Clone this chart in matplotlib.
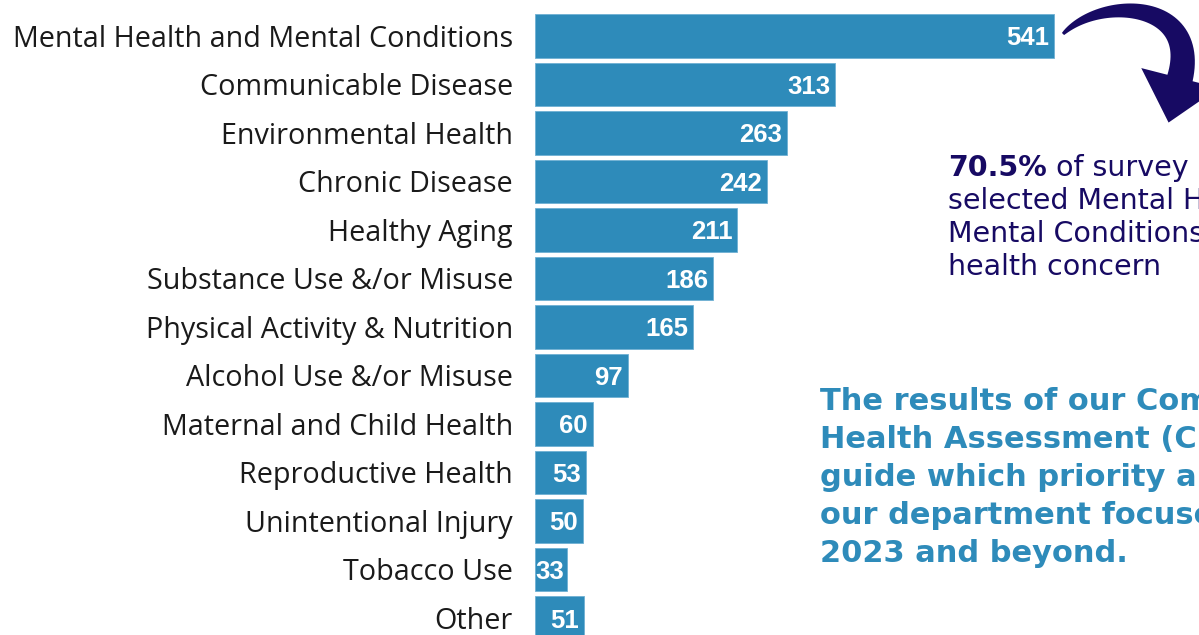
import numpy as np
import matplotlib.pyplot as plt
from matplotlib.patches import Polygon

categories = ['Mental Health and Mental Conditions', 'Communicable Disease',
              'Environmental Health', 'Chronic Disease', 'Healthy Aging',
              'Substance Use &/or Misuse', 'Physical Activity & Nutrition',
              'Alcohol Use &/or Misuse', 'Maternal and Child Health',
              'Reproductive Health', 'Unintentional Injury', 'Tobacco Use', 'Other']
counts = [541, 313, 263, 242, 211, 186, 165, 97, 60, 53, 50, 33, 51]

bar_color = '#2e8bba'
navy = '#170a63'
W, H = 1199, 635

fig = plt.figure(figsize=(11.99, 6.35), dpi=100)
# axes start where the bars start, run to the right edge
ax = fig.add_axes([535 / W, 0, 1 - 535 / W, 1])
y = list(range(len(categories)))
ax.barh(y, counts, height=0.89, color=bar_color, edgecolor='#6fb0d3', linewidth=0.6)
ax.set_xlim(0, (W - 535) / 0.959)
ax.set_ylim((H - 36) / 48.5, -36 / 48.5)
ax.set_axis_off()

for yi, name, v in zip(y, categories, counts):
    # category label left of the bars
    ax.annotate(name, xy=(0, yi), xytext=(-22, 0), textcoords='offset pixels',
                ha='right', va='center_baseline', fontsize=20.7, family='Open Sans',
                color='#1a1a1a', annotation_clip=False)
    # value inside the bar end
    pad = -3 if v < 40 else -5
    ax.annotate(str(v), xy=(v, yi), xytext=(pad, 0), textcoords='offset pixels',
                ha='right', va='center_baseline', fontsize=18.5, fontweight='bold',
                family='Liberation Sans', color='white')

# curved arrow, built as a tapered bezier in pixel space
p0, p1, p2, p3 = (np.array(p, float) for p in [(1063, 34), (1100, -4), (1200, 0), (1180, 78)])
t = np.linspace(0, 1, 60)[:, None]
c = (1 - t) ** 3 * p0 + 3 * (1 - t) ** 2 * t * p1 + 3 * (1 - t) * t ** 2 * p2 + t ** 3 * p3
d = 3 * (1 - t) ** 2 * (p1 - p0) + 6 * (1 - t) * t * (p2 - p1) + 3 * t ** 2 * (p3 - p2)
d = d / np.linalg.norm(d, axis=1, keepdims=True)
n = np.column_stack([-d[:, 1], d[:, 0]])
w = (3 + 23 * t ** 0.8) / 2
left, right = c + n * w, c - n * w
tip = p3 + d[-1] * 46
head = [p3 + n[-1] * 40, tip, p3 - n[-1] * 40]
pts = np.vstack([left, head, right[::-1]])
pts = np.column_stack([pts[:, 0] / W, 1 - pts[:, 1] / H])
fig.patches.append(Polygon(pts, closed=True, transform=fig.transFigure,
                           facecolor=navy, edgecolor='none'))

# side note in navy
t1 = fig.text(948 / W, 1 - 176 / H, '70.5%', fontsize=20.5, fontweight='bold',
              family='DejaVu Sans', color=navy, va='baseline')
ax.annotate(' of survey respondents', xy=(1, 0), xycoords=t1, va='bottom',
            fontsize=20.5, family='DejaVu Sans', color=navy, annotation_clip=False)
note_lines = ['selected Mental Health and', 'Mental Conditions as a top', 'health concern']
for i, line in enumerate(note_lines):
    fig.text(948 / W, 1 - (176 + 33 * (i + 1)) / H, line, fontsize=20.5,
             family='DejaVu Sans', color=navy, va='baseline')

big_lines = ['The results of our Community', 'Health Assessment (CHA) will',
             'guide which priority areas', 'our department focuses on in',
             '2023 and beyond.']
for i, line in enumerate(big_lines):
    fig.text(820 / W, 1 - (410 + 38 * i) / H, line, fontsize=22, fontweight='bold',
             family='DejaVu Sans', color=bar_color, va='baseline')

fig.savefig('out.png', dpi=100)
